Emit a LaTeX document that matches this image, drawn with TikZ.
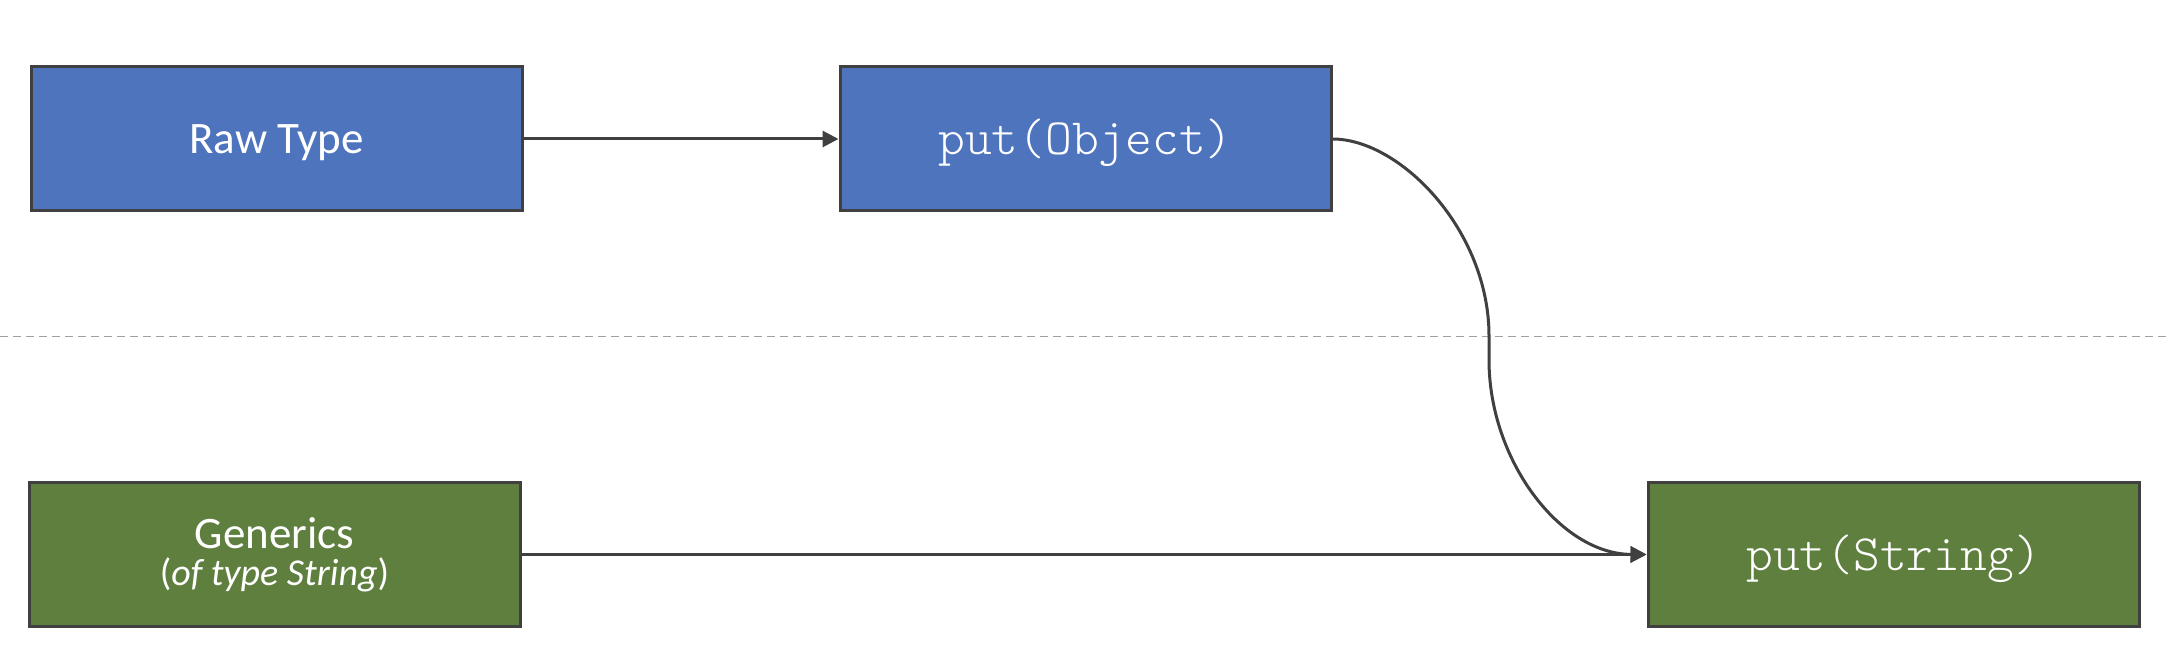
\documentclass[tikz,border=0pt]{standalone}
\usepackage{fontspec}
\setmainfont{Carlito}
\newfontfamily\codefont{Latin Modern Mono Light}
\usetikzlibrary{arrows.meta}
\definecolor{boxblue}{HTML}{4E74BE}
\definecolor{boxgreen}{HTML}{5E7F3E}
\definecolor{edgegray}{HTML}{404040}
\definecolor{dashgray}{HTML}{A0A0A0}
\begin{document}
\begin{tikzpicture}[x=0.5pt,y=-0.5pt,
  box/.style={draw=edgegray, line width=1.5pt, minimum width=245.5pt, minimum height=72pt, inner sep=0pt, text=white, align=center},
  labelfont/.style={font=\fontsize{22.5}{27}\selectfont, text depth=0pt},
  codefontstyle/.style={font=\codefont\fontsize{25.5}{30}\selectfont, text height=16pt, text depth=0pt},
  conn/.style={draw=edgegray, line width=1.5pt, -{Triangle[length=8pt,width=8pt]}},
  sepline/.style={draw=dashgray, line width=0.8pt, dash pattern=on 4pt off 2.5pt}]
\useasboundingbox (0,0) rectangle (2168,656);
\coordinate (sepL) at (0,336.5);
\coordinate (sepR) at (2168,336.5);
\draw[sepline] (sepL) -- (sepR);
\node[box, fill=boxblue, labelfont] (raw) at (276.5,139) {Raw Type};
\node[box, fill=boxblue, codefontstyle] (obj) at (1085.5,139) {put(Object)};
\node[box, fill=boxgreen, font=\fontsize{19}{18.5}\selectfont] (gen) at (274.5,554.5) {{\fontsize{22.5}{18.5}\selectfont Generics}\\(\textit{of type String})};
\node[box, fill=boxgreen, codefontstyle] (str) at (1893.5,554.5) {put(String)};
\coordinate (bendA) at (1489,336);
\coordinate (bendB) at (1489,360);
\draw[conn] (raw) -- (obj);
\draw[conn] (gen) -- (str);
\draw[conn] (obj.east) .. controls (1400,139) and (1489,230) .. (bendA) -- (bendB) .. controls (1489,460) and (1560,554) .. (str.west);
\end{tikzpicture}
\end{document}
